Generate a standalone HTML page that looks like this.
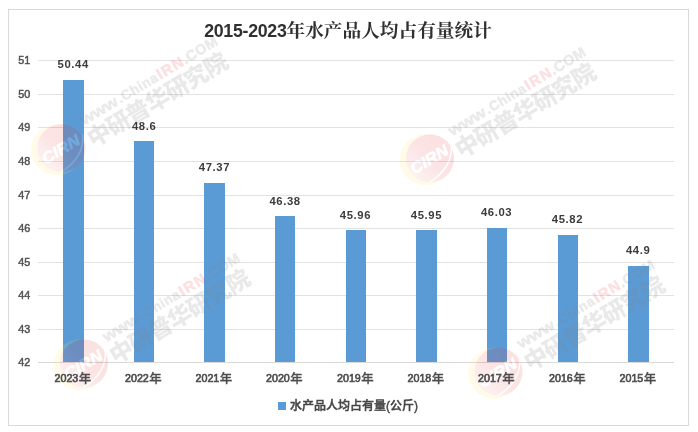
<!DOCTYPE html>
<html lang="zh-CN">
<head>
<meta charset="utf-8">
<title>2015-2023年水产品人均占有量统计</title>
<style>
html,body{margin:0;padding:0;background:#fff;}
body{width:698px;height:432px;overflow:hidden;}
svg{display:block;}
.ax{font-family:"Liberation Sans","Noto Sans CJK SC",sans-serif;font-size:10.3px;fill:#505050;stroke:#505050;stroke-width:0.45px;}
.cat{font-family:"Liberation Sans","Noto Sans CJK SC",sans-serif;font-size:10.3px;fill:#4c4c4c;stroke:#4c4c4c;stroke-width:0.6px;}
.cat .c{font-size:12.4px;font-weight:500;stroke-width:0.3px;}
.dl{font-family:"Liberation Sans","Noto Sans CJK SC",sans-serif;font-size:11.3px;font-weight:bold;fill:#3c3c3c;letter-spacing:0.6px;}
.ttl{font-family:"Liberation Sans","Noto Serif CJK SC",serif;font-size:17.8px;font-weight:bold;fill:#303030;letter-spacing:-0.3px;}
.ttl .c{font-size:18.67px;letter-spacing:0;}
.lg{font-family:"Liberation Sans","Noto Sans CJK SC",sans-serif;font-size:12px;font-weight:500;fill:#454545;stroke:#454545;stroke-width:0.4px;}
.w1{font-family:"Liberation Sans",sans-serif;font-weight:bold;font-size:15.5px;fill:#808080;stroke:#808080;stroke-width:0.5px;}
.w1 .r{fill:#f0444a;stroke:#f0444a;stroke-width:0.6px;}
.w2{font-family:"Liberation Sans","Noto Sans CJK SC",sans-serif;font-weight:900;font-size:23.5px;fill:#808080;}
.wl{font-family:"Liberation Sans",sans-serif;font-weight:bold;font-style:italic;font-size:15.8px;fill:#fff;stroke:#fff;stroke-width:0.6px;}
</style>
</head>
<body>
<svg width="698" height="432" viewBox="0 0 698 432">
<defs>
<linearGradient id="rg" x1="0.1" y1="0.9" x2="0.8" y2="0.2">
  <stop offset="0" stop-color="#f5aaaa"/>
  <stop offset="0.55" stop-color="#ea3b3f"/>
  <stop offset="1" stop-color="#e8262b"/>
</linearGradient>
</defs>
<rect x="0" y="0" width="698" height="432" fill="#fff"/>
<rect x="8.5" y="9.5" width="680" height="416" fill="#fff" stroke="#d9d9d9" stroke-width="1"/>

<g stroke="#e2e2e2" stroke-width="1" shape-rendering="crispEdges">
<line x1="38.0" y1="60.5" x2="674.0" y2="60.5"/>
<line x1="38.0" y1="94.5" x2="674.0" y2="94.5"/>
<line x1="38.0" y1="127.5" x2="674.0" y2="127.5"/>
<line x1="38.0" y1="161.5" x2="674.0" y2="161.5"/>
<line x1="38.0" y1="195.5" x2="674.0" y2="195.5"/>
<line x1="38.0" y1="228.5" x2="674.0" y2="228.5"/>
<line x1="38.0" y1="262.5" x2="674.0" y2="262.5"/>
<line x1="38.0" y1="295.5" x2="674.0" y2="295.5"/>
<line x1="38.0" y1="329.5" x2="674.0" y2="329.5"/>
<line x1="38.0" y1="362.5" x2="674.0" y2="362.5" stroke="#d9d9d9"/>
</g>
<g class="ax">
<text x="18.3" y="63.9" textLength="12" lengthAdjust="spacingAndGlyphs">51</text>
<text x="18.3" y="97.9" textLength="12" lengthAdjust="spacingAndGlyphs">50</text>
<text x="18.3" y="130.9" textLength="12" lengthAdjust="spacingAndGlyphs">49</text>
<text x="18.3" y="164.9" textLength="12" lengthAdjust="spacingAndGlyphs">48</text>
<text x="18.3" y="198.9" textLength="12" lengthAdjust="spacingAndGlyphs">47</text>
<text x="18.3" y="231.9" textLength="12" lengthAdjust="spacingAndGlyphs">46</text>
<text x="18.3" y="265.9" textLength="12" lengthAdjust="spacingAndGlyphs">45</text>
<text x="18.3" y="298.9" textLength="12" lengthAdjust="spacingAndGlyphs">44</text>
<text x="18.3" y="332.9" textLength="12" lengthAdjust="spacingAndGlyphs">43</text>
<text x="18.3" y="365.9" textLength="12" lengthAdjust="spacingAndGlyphs">42</text>
</g>
<g fill="#5b9bd5" shape-rendering="crispEdges">
<rect x="63" y="80" width="21" height="282"/>
<rect x="134" y="141" width="20" height="221"/>
<rect x="204" y="183" width="21" height="179"/>
<rect x="275" y="216" width="20" height="146"/>
<rect x="346" y="230" width="20" height="132"/>
<rect x="416" y="230" width="21" height="132"/>
<rect x="487" y="228" width="20" height="134"/>
<rect x="558" y="235" width="20" height="127"/>
<rect x="628" y="266" width="21" height="96"/>
</g>
<g transform="translate(61.4,148.2)" opacity="0.135">
  <ellipse cx="-4.2" cy="1.5" rx="26.2" ry="25.5" fill="#ffe85c"/>
  <circle cx="0" cy="0" r="24" fill="url(#rg)"/>
  <path d="M21.2,-14 Q23.5,9 -0.5,24" fill="none" stroke="#fff" stroke-width="1.5"/>
  <text class="wl" transform="rotate(-31)" x="-22" y="6" textLength="41.5" lengthAdjust="spacingAndGlyphs">CIRN</text>
</g>
<g transform="translate(62.8,147.5)" opacity="0.165">
  <g transform="rotate(-31)">
  <g class="w1"><text x="29.5" y="-8" font-size="15px" textLength="41" lengthAdjust="spacingAndGlyphs">www</text><text x="72" y="-8" font-size="13.8px" textLength="45" lengthAdjust="spacing">.China</text><text class="r" x="118.5" y="-8" font-size="14.8px" textLength="28.5" lengthAdjust="spacing">IRN</text><text x="148" y="-8" font-size="14.5px" textLength="39" lengthAdjust="spacing">.COM</text></g>
  <text class="w2" x="26" y="16.2" textLength="159.5" lengthAdjust="spacing">中研普华研究院</text>
  </g>
</g>
<g transform="translate(430,158.3)" opacity="0.135">
  <ellipse cx="-4.2" cy="1.5" rx="26.2" ry="25.5" fill="#ffe85c"/>
  <circle cx="0" cy="0" r="24" fill="url(#rg)"/>
  <path d="M21.2,-14 Q23.5,9 -0.5,24" fill="none" stroke="#fff" stroke-width="1.5"/>
  <text class="wl" transform="rotate(-31)" x="-22" y="6" textLength="41.5" lengthAdjust="spacingAndGlyphs">CIRN</text>
</g>
<g transform="translate(430.8,158.3)" opacity="0.165">
  <g transform="rotate(-31)">
  <g class="w1"><text x="29.5" y="-8" font-size="15px" textLength="41" lengthAdjust="spacingAndGlyphs">www</text><text x="72" y="-8" font-size="13.8px" textLength="45" lengthAdjust="spacing">.China</text><text class="r" x="118.5" y="-8" font-size="14.8px" textLength="28.5" lengthAdjust="spacing">IRN</text><text x="148" y="-8" font-size="14.5px" textLength="39" lengthAdjust="spacing">.COM</text></g>
  <text class="w2" x="26" y="16.2" textLength="159.5" lengthAdjust="spacing">中研普华研究院</text>
  </g>
</g>
<g transform="translate(84,363.5)" opacity="0.135">
  <ellipse cx="-4.2" cy="1.5" rx="26.2" ry="25.5" fill="#ffe85c"/>
  <circle cx="0" cy="0" r="24" fill="url(#rg)"/>
  <path d="M21.2,-14 Q23.5,9 -0.5,24" fill="none" stroke="#fff" stroke-width="1.5"/>
  <text class="wl" transform="rotate(-31)" x="-22" y="6" textLength="41.5" lengthAdjust="spacingAndGlyphs">CIRN</text>
</g>
<g transform="translate(85,364.3)" opacity="0.165">
  <g transform="rotate(-31)">
  <g class="w1"><text x="29.5" y="-8" font-size="15px" textLength="41" lengthAdjust="spacingAndGlyphs">www</text><text x="72" y="-8" font-size="13.8px" textLength="45" lengthAdjust="spacing">.China</text><text class="r" x="118.5" y="-8" font-size="14.8px" textLength="28.5" lengthAdjust="spacing">IRN</text><text x="148" y="-8" font-size="14.5px" textLength="39" lengthAdjust="spacing">.COM</text></g>
  <text class="w2" x="26" y="16.2" textLength="159.5" lengthAdjust="spacing">中研普华研究院</text>
  </g>
</g>
<g transform="translate(498.5,371.7)" opacity="0.135">
  <ellipse cx="-4.2" cy="1.5" rx="26.2" ry="25.5" fill="#ffe85c"/>
  <circle cx="0" cy="0" r="24" fill="url(#rg)"/>
  <path d="M21.2,-14 Q23.5,9 -0.5,24" fill="none" stroke="#fff" stroke-width="1.5"/>
  <text class="wl" transform="rotate(-31)" x="-22" y="6" textLength="41.5" lengthAdjust="spacingAndGlyphs">CIRN</text>
</g>
<g transform="translate(499.6,371)" opacity="0.165">
  <g transform="rotate(-31)">
  <g class="w1"><text x="29.5" y="-8" font-size="15px" textLength="41" lengthAdjust="spacingAndGlyphs">www</text><text x="72" y="-8" font-size="13.8px" textLength="45" lengthAdjust="spacing">.China</text><text class="r" x="118.5" y="-8" font-size="14.8px" textLength="28.5" lengthAdjust="spacing">IRN</text><text x="148" y="-8" font-size="14.5px" textLength="39" lengthAdjust="spacing">.COM</text></g>
  <text class="w2" x="26" y="16.2" textLength="159.5" lengthAdjust="spacing">中研普华研究院</text>
  </g>
</g>
<g class="dl" text-anchor="middle">
<text x="73.2" y="68.1">50.44</text>
<text x="144.1" y="130.1">48.6</text>
<text x="214.5" y="171.1">47.37</text>
<text x="285.1" y="205.1">46.38</text>
<text x="355.5" y="219.1">45.96</text>
<text x="426.4" y="219.1">45.95</text>
<text x="496.6" y="216.1">46.03</text>
<text x="567.5" y="223.1">45.82</text>
<text x="638.1" y="254.1">44.9</text>
</g>
<g class="cat">
<text x="54.5" y="381.8" textLength="23.8" lengthAdjust="spacingAndGlyphs">2023</text><text class="c" x="78.8" y="383">年</text>
<text x="125.0" y="381.8" textLength="23.8" lengthAdjust="spacingAndGlyphs">2022</text><text class="c" x="149.3" y="383">年</text>
<text x="195.5" y="381.8" textLength="23.8" lengthAdjust="spacingAndGlyphs">2021</text><text class="c" x="219.8" y="383">年</text>
<text x="266.0" y="381.8" textLength="23.8" lengthAdjust="spacingAndGlyphs">2020</text><text class="c" x="290.3" y="383">年</text>
<text x="337.0" y="381.8" textLength="23.8" lengthAdjust="spacingAndGlyphs">2019</text><text class="c" x="361.3" y="383">年</text>
<text x="407.5" y="381.8" textLength="23.8" lengthAdjust="spacingAndGlyphs">2018</text><text class="c" x="431.8" y="383">年</text>
<text x="478.0" y="381.8" textLength="23.8" lengthAdjust="spacingAndGlyphs">2017</text><text class="c" x="502.3" y="383">年</text>
<text x="549.0" y="381.8" textLength="23.8" lengthAdjust="spacingAndGlyphs">2016</text><text class="c" x="573.3" y="383">年</text>
<text x="619.5" y="381.8" textLength="23.8" lengthAdjust="spacingAndGlyphs">2015</text><text class="c" x="643.8" y="383">年</text>
</g>
<text class="ttl" x="204.2" y="36.8">2015-2023<tspan class="c">年水产品人均占有量统计</tspan></text>
<rect x="278" y="402" width="8" height="8" fill="#5b9bd5" shape-rendering="crispEdges"/>
<text class="lg" x="290" y="410.2">水产品人均占有量(公斤)</text>
</svg>
</body>
</html>
